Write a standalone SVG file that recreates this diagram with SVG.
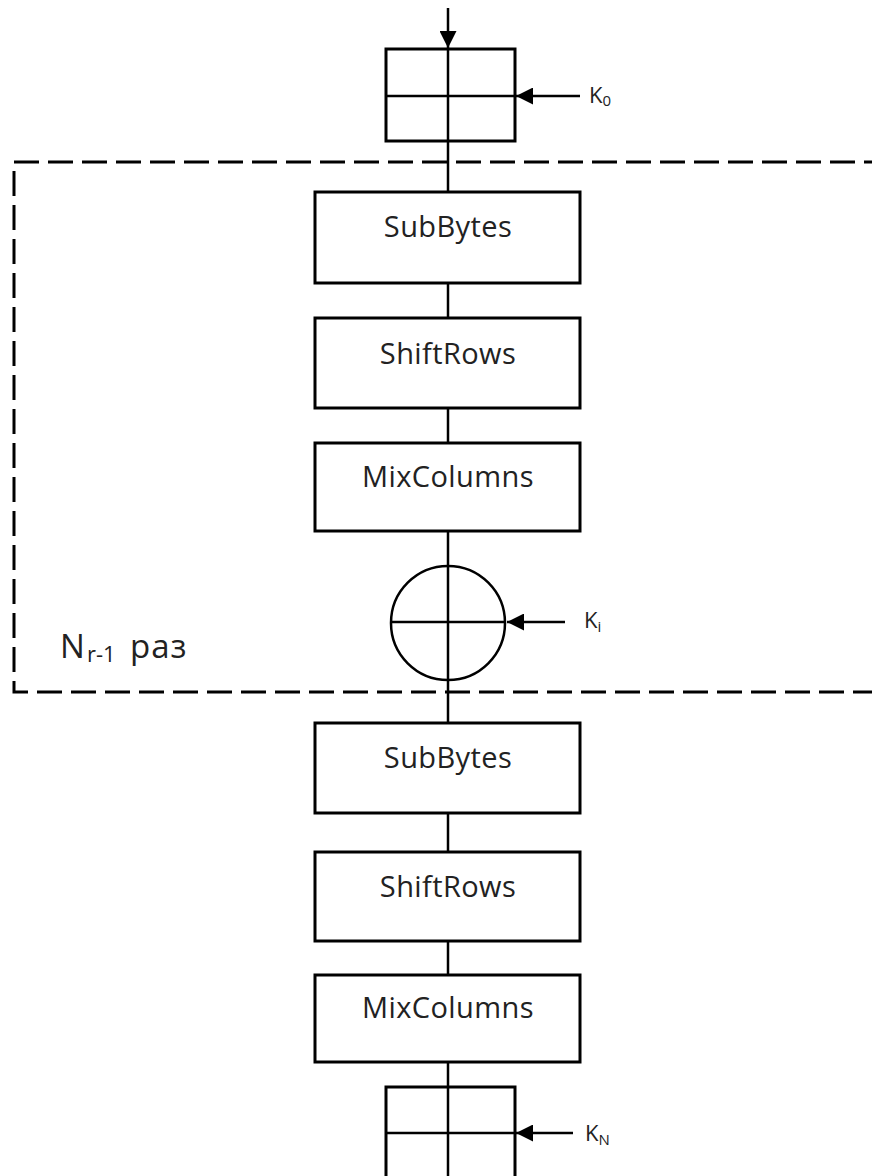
<svg xmlns="http://www.w3.org/2000/svg" width="872" height="1176" viewBox="0 0 872 1176">
<defs>
<style>
.box{fill:#fff;stroke:#000;stroke-width:3}
.ln{stroke:#000;stroke-width:2.5;fill:none}
.dash{fill:none;stroke:#000;stroke-width:3;stroke-dasharray:25 9}
.lbl{font-family:"Open Sans","Liberation Sans",sans-serif;font-size:29px;fill:#222;text-anchor:middle;letter-spacing:0.4px}
.k{font-family:"Open Sans","Liberation Sans",sans-serif;font-size:22px;fill:#222}
.ks{font-size:15px}
.big{font-family:"Open Sans","Liberation Sans",sans-serif;fill:#222}
</style>
<marker id="ah2" markerWidth="17" markerHeight="17" refX="17" refY="8.5" orient="auto" markerUnits="userSpaceOnUse" viewBox="0 0 17 17">
<path d="M0,0 L17,8.5 L0,17 z" fill="#000"/>
</marker>
</defs>
<rect width="872" height="1176" fill="#fff"/>
<g id="loop">
<path class="dash" d="M14,162 H890"/>
<path class="dash" d="M14,171 V692 H890"/>
<text class="big" x="60" y="658" font-size="33">N</text>
<text class="big" x="87" y="662" font-size="22">r-1</text>
<text class="big" x="130" y="658" font-size="33" letter-spacing="1">раз</text>
</g>
<g id="connectors">
<line class="ln" x1="448" y1="8" x2="448" y2="48" marker-end="url(#ah2)"/>
<line class="ln" x1="448" y1="141" x2="448" y2="192"/>
<line class="ln" x1="448" y1="283" x2="448" y2="318"/>
<line class="ln" x1="448" y1="408" x2="448" y2="443"/>
<line class="ln" x1="448" y1="531" x2="448" y2="566"/>
<line class="ln" x1="448" y1="680" x2="448" y2="723"/>
<line class="ln" x1="448" y1="813" x2="448" y2="852"/>
<line class="ln" x1="448" y1="941" x2="448" y2="975"/>
<line class="ln" x1="448" y1="1062" x2="448" y2="1086"/>
<line class="ln" x1="580" y1="96" x2="516" y2="96" marker-end="url(#ah2)"/>
<line class="ln" x1="565" y1="622" x2="507" y2="622" marker-end="url(#ah2)"/>
<line class="ln" x1="573" y1="1133" x2="516" y2="1133" marker-end="url(#ah2)"/>
</g>
<g id="k0">
<rect class="box" x="386" y="49" width="129" height="92"/>
<line class="ln" x1="448" y1="49" x2="448" y2="141"/>
<line class="ln" x1="386" y1="96" x2="515" y2="96"/>
<text class="k" x="589" y="103">K<tspan class="ks" dy="3">0</tspan></text>
</g>
<g id="subbytes1">
<rect class="box" x="315" y="192" width="265" height="91"/>
<text class="lbl" x="448" y="237">SubBytes</text>
</g>
<g id="shiftrows1">
<rect class="box" x="315" y="318" width="265" height="90"/>
<text class="lbl" x="448" y="364">ShiftRows</text>
</g>
<g id="mixcolumns1">
<rect class="box" x="315" y="443" width="265" height="88"/>
<text class="lbl" x="448" y="487">MixColumns</text>
</g>
<g id="xor">
<circle cx="448" cy="623" r="57" fill="#fff" stroke="#000" stroke-width="2.5"/>
<line class="ln" x1="448" y1="566" x2="448" y2="680"/>
<line class="ln" x1="391" y1="622" x2="505" y2="622"/>
<text class="k" x="584" y="628">K<tspan class="ks" dy="4">i</tspan></text>
</g>
<g id="subbytes2">
<rect class="box" x="315" y="723" width="265" height="90"/>
<text class="lbl" x="448" y="768">SubBytes</text>
</g>
<g id="shiftrows2">
<rect class="box" x="315" y="852" width="265" height="89"/>
<text class="lbl" x="448" y="897">ShiftRows</text>
</g>
<g id="mixcolumns2">
<rect class="box" x="315" y="975" width="265" height="87"/>
<text class="lbl" x="448" y="1018">MixColumns</text>
</g>
<g id="kn">
<rect class="box" x="386" y="1087" width="129" height="100"/>
<line class="ln" x1="448" y1="1087" x2="448" y2="1180"/>
<line class="ln" x1="386" y1="1133" x2="515" y2="1133"/>
<text class="k" x="585" y="1141">K<tspan class="ks" dy="4">N</tspan></text>
</g>
</svg>
